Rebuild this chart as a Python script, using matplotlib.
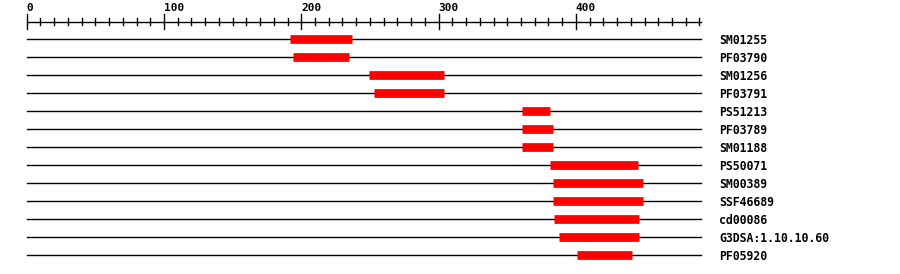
import matplotlib
matplotlib.use("Agg")
import matplotlib.pyplot as plt

# domain hits along the sequence
names = ['SM01255', 'PF03790', 'SM01256', 'PF03791', 'PS51213', 'PF03789',
         'SM01188', 'PS50071', 'SM00389', 'SSF46689', 'cd00086',
         'G3DSA:1.10.10.60', 'PF05920']
starts = [192, 194, 249, 253, 361, 361, 361, 381, 383, 383, 384, 388, 401]
ends = [237, 235, 304, 304, 381, 383, 383, 445, 449, 449, 446, 446, 441]
seq_len = 491
tick_labels = [0, 100, 200, 300, 400]

px = 1.373   # pixels per residue
x0 = 26.7    # pixel of residue 0

fig = plt.figure(figsize=(9, 2.74), dpi=100)
ax = fig.add_axes([0, 0, 1, 1])
ax.set_xlim(-x0 / px, (900 - x0) / px)
ax.set_ylim(274, 0)
ax.axis('off')

mono = dict(family='DejaVu Sans Mono', fontweight='bold')

# ruler
ax.plot([0, seq_len], [21.5, 21.5], color='black', lw=1)
for t in range(0, seq_len, 10):
    if t % 100 == 0:
        ax.plot([t, t], [14, 29], color='black', lw=1)
    else:
        ax.plot([t, t], [18, 25], color='black', lw=1)
for t in tick_labels:
    ax.text(t, 8, str(t), ha='left', va='center', fontsize=8, **mono)

# tracks
for i, (n, s, e) in enumerate(zip(names, starts, ends)):
    y = 39 + 18 * i
    ax.plot([0, seq_len], [y, y], color='black', lw=1)
    ax.plot([s, e], [y, y], color='#ff0000', lw=6.3, solid_capstyle='butt')
    ax.text((719 - x0) / px, y + 1, n, ha='left', va='center', fontsize=8.3, **mono)

fig.savefig('out.png', dpi=100)
